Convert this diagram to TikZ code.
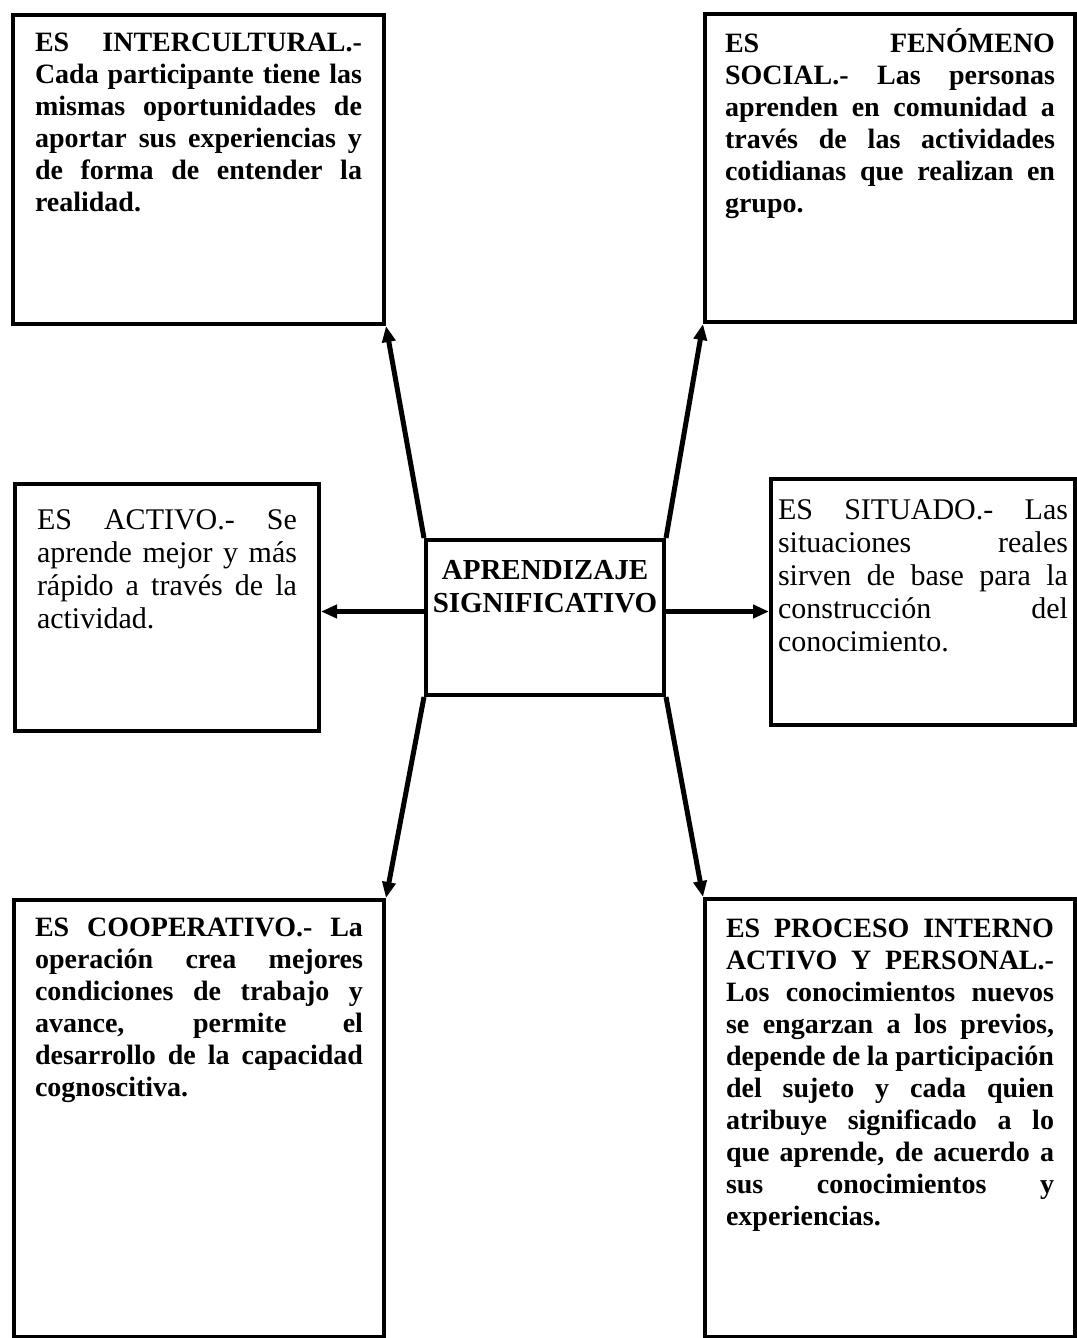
\documentclass[tikz,border=0pt]{standalone}
\usepackage{fontspec}
\setmainfont{Liberation Serif}
\usetikzlibrary{arrows.meta}

\begin{document}
\begin{tikzpicture}[x=0.5pt, y=-0.5pt,
  cuadro/.style={draw, line width=2pt, anchor=north west, rectangle,
    font=\fontsize{14}{16}\selectfont\bfseries},
  fino/.style={font=\fontsize{15}{16.5}\selectfont},
  flecha/.style={line width=2.5pt, -{Triangle[length=8pt, width=6.5pt]}}]

  \newcommand\Caja[3]{\parbox[t][#2][t]{#1}{\hyphenpenalty=10000\strut #3}}

  \useasboundingbox (0,0) rectangle (1076,1338);

  %% upper row
  \node[cuadro, inner xsep=11pt, inner ysep=7pt] (inter) at (11,13)
    {\Caja{163.5pt}{140.5pt}{ES INTERCULTURAL.-\linebreak Cada participante tiene las\linebreak
     mismas oportunidades de\linebreak aportar sus experiencias y\linebreak
     de forma de entender la\linebreak realidad.}};
  \node[cuadro, inner xsep=10pt, inner ysep=7pt] (fenomeno) at (703,12)
    {\Caja{165pt}{140pt}{ES FENÓMENO\linebreak SOCIAL.- Las personas\linebreak
     aprenden en comunidad a\linebreak través de las actividades\linebreak
     cotidianas que realizan en\linebreak grupo.}};

  %% middle row
  \node[cuadro, fino, inner xsep=11pt, inner ysep=11pt] (activo) at (13,482)
    {\Caja{130pt}{101.5pt}{ES ACTIVO.- Se\linebreak aprende mejor y más\linebreak
     rápido a través de la\linebreak actividad.}};
  \node[cuadro, font=\fontsize{14.5}{16.5}\selectfont\bfseries, inner xsep=0pt, inner ysep=8pt] (centro) at (424,538)
    {\Caja{119pt}{61.5pt}{\centering APRENDIZAJE\\SIGNIFICATIVO}};
  \node[cuadro, fino, inner xsep=3.5pt, inner ysep=8.5pt] (situado) at (769,477)
    {\Caja{145pt}{106pt}{ES SITUADO.- Las\linebreak situaciones reales\linebreak
     sirven de base para la\linebreak construcción del\linebreak conocimiento.}};

  %% lower row
  \node[cuadro, inner xsep=10.5pt, inner ysep=7pt] (coop) at (12,898)
    {\Caja{164pt}{204.5pt}{ES COOPERATIVO.- La\linebreak operación crea mejores\linebreak
     condiciones de trabajo y\linebreak avance, permite el\linebreak
     desarrollo de la capacidad\linebreak cognoscitiva.}};
  \node[cuadro, inner xsep=10.5pt, inner ysep=8pt] (proceso) at (703,897)
    {\Caja{164pt}{203pt}{ES PROCESO INTERNO\linebreak ACTIVO Y PERSONAL.-\linebreak
     Los conocimientos nuevos\linebreak se engarzan a los previos,\linebreak
     depende de la participación\linebreak del sujeto y cada quien\linebreak
     atribuye significado a lo\linebreak que aprende, de acuerdo a\linebreak
     sus conocimientos y\linebreak experiencias.}};

  \draw[flecha] (centro.north west) -- (inter.south east); %% up left
  \draw[flecha] (centro.north east) -- (fenomeno.south west); %% up right
  \draw[flecha] ([yshift=3pt]centro.west) -- ([yshift=3pt]centro.west -| activo.east);
  \draw[flecha] ([yshift=3pt]centro.east) -- ([yshift=3pt]centro.east -| situado.west);
  \draw[flecha] (centro.south west) -- (coop.north east); %% down left
  \draw[flecha] (centro.south east) -- (proceso.north west); %% down right
\end{tikzpicture}
\end{document}
